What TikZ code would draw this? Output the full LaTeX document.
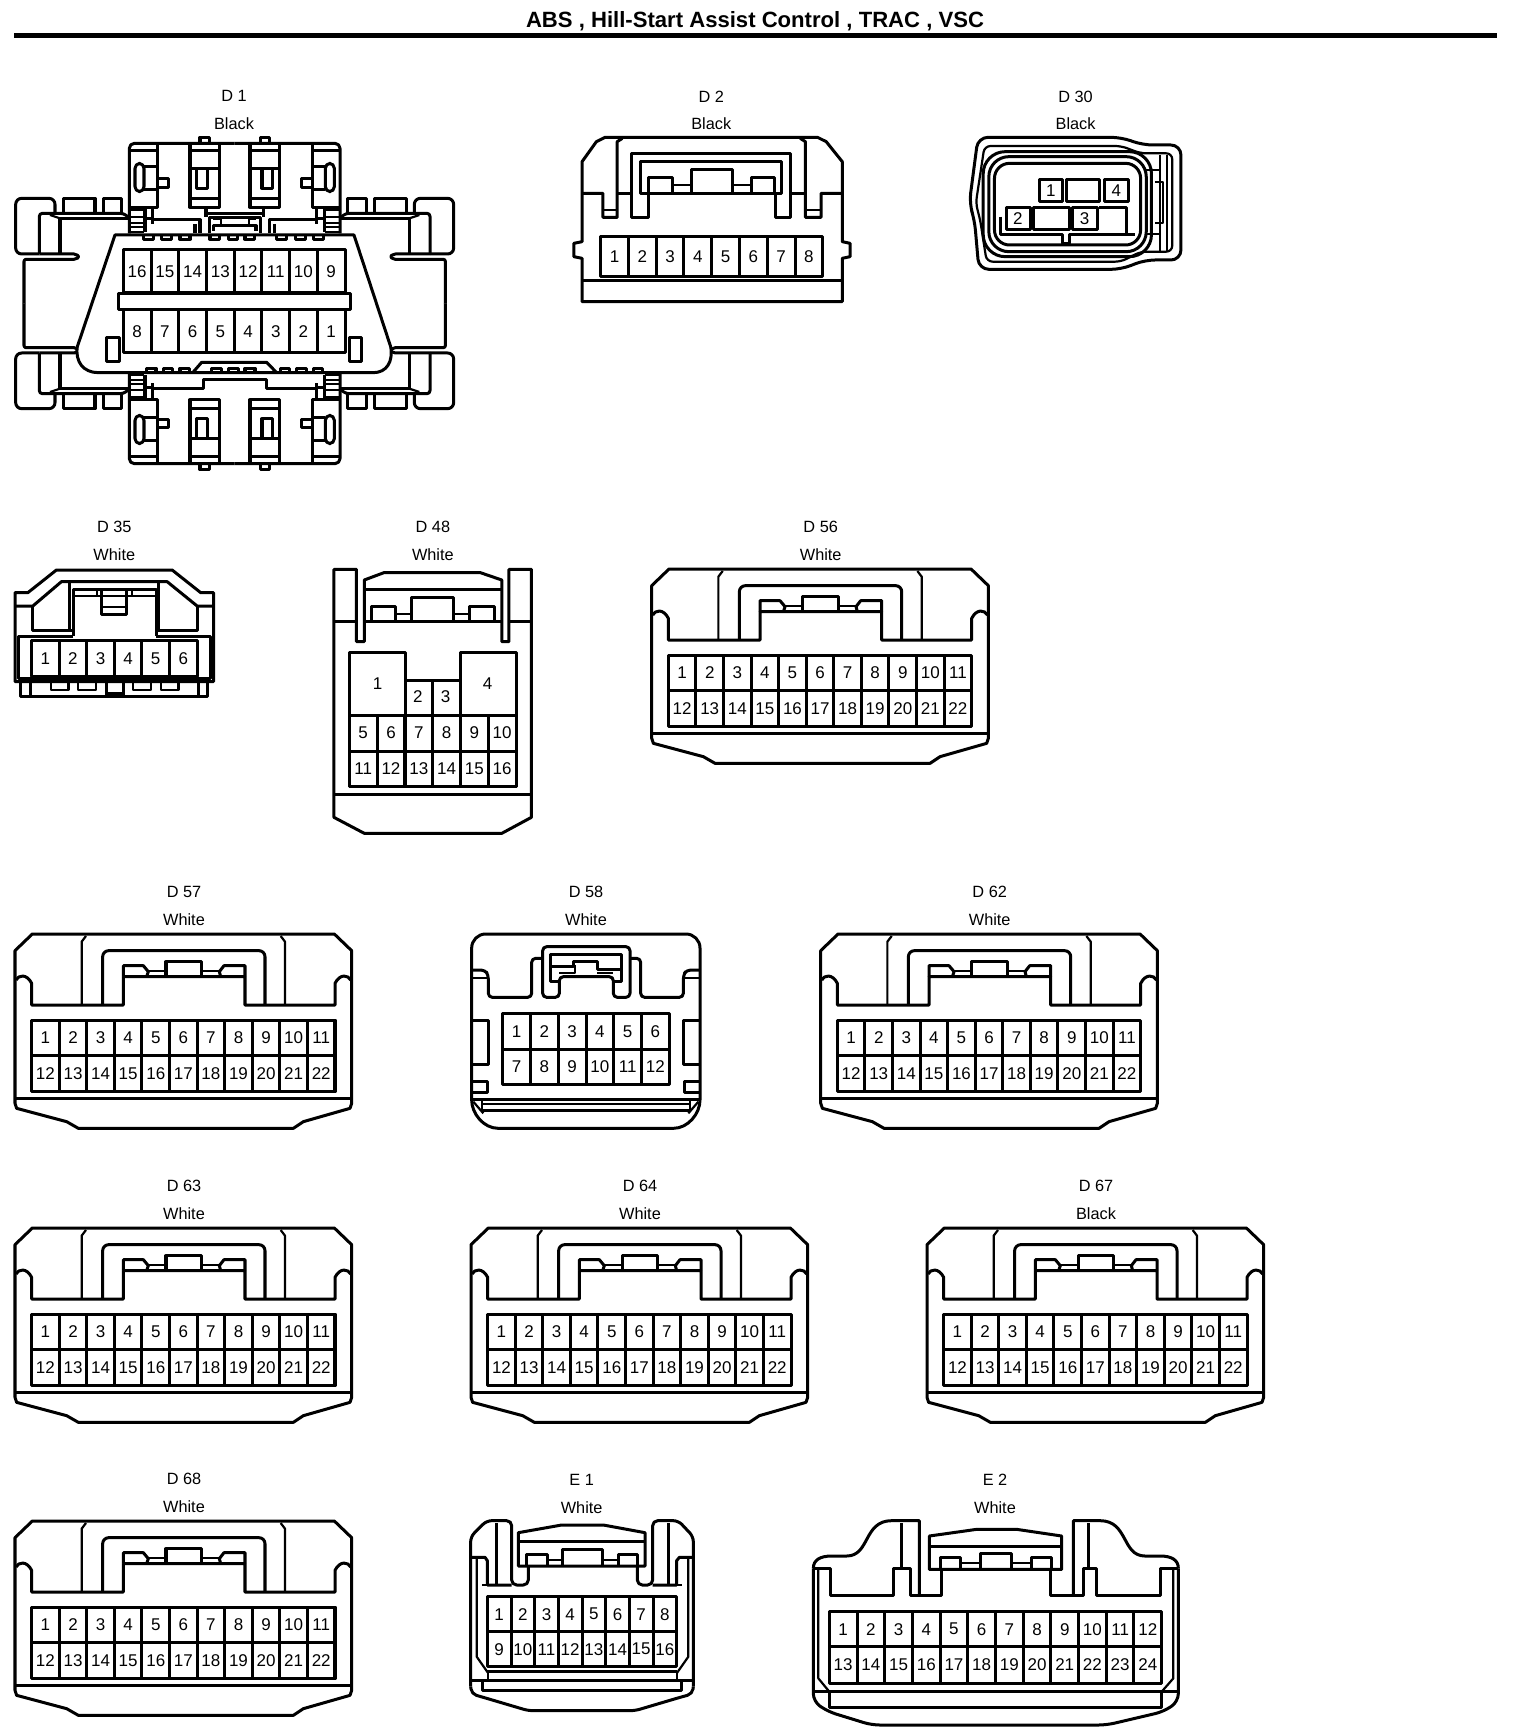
\documentclass[tikz,border=0pt]{standalone}
\usepackage{fontspec}
\setmainfont{Liberation Sans}
\newcommand\pinfont{\fontsize{17}{17}\selectfont}
\newcommand\capfont{\fontsize{16.3}{16.3}\selectfont}

\tikzset{
    conn/.style={line width=3pt, line join=round},
    thinconn/.style={line width=2.2pt, line join=round},
    pinlabel/.style={font=\pinfont, inner sep=0pt},
    caplabel/.style={font=\capfont, inner sep=0pt},
    zoomthree/.style={x=0.33333pt, y=-0.33333pt},
    zoomwide/.style={x=0.35714pt, y=-0.33333pt},
    zoomwider/.style={x=0.43365pt, y=-0.33333pt}
}

% one row of pin cells with their numbers
\newcommand\pinrow[7]{
    \pgfmathsetmacro\cellw{(#4-#2)/#6}
    \foreach \n [count=\i] in {#7} {
        \pgfmathsetmacro\xa{#2+(\i-1)*\cellw}
        \pgfmathsetmacro\xb{\xa+\cellw}
        \draw[conn] (\xa,#3) rectangle (\xb,#5);
        \node[pinlabel] (#1-\n) at ({(\xa+\xb)/2},{(#3+#5)/2}) {\n};
    }
}

\newcommand\connlabel[6]{
    \node[caplabel] (#1) at (#2,#3) {#5};
    \node[caplabel] (#1-colour) at (#2,#4) {#6};
}

% the 22 pin housing, drawn in the coordinates of its crop
\newcommand\wideconn[5]{
    \begin{scope}[shift={(#2,#3)}, zoomthree]
        \connlabel{#1}{552}{36}{118}{#4}{#5}
        \draw[conn] (97,162) -- (1003,162) -- (1055,212) -- (1055,670) -- (1050,685)
            -- (910,725) -- (880,745) -- (235,745) -- (200,725) -- (50,685) -- (45,670)
            -- (45,212) -- cycle;
        \draw[conn] (48,300) .. controls (55,285) and (80,280) .. (95,310) -- (95,375)
            -- (370,375) -- (370,290) -- (735,290) -- (735,375) -- (1005,375) -- (1005,310)
            .. controls (1020,280) and (1045,285) .. (1052,300);
        \draw[thinconn] (245,375) -- (245,185) -- (258,168);
        \draw[thinconn] (855,375) -- (855,185) -- (842,168);
        \draw[conn, rounded corners=6pt] (308,375) -- (308,212) -- (795,212) -- (795,375);
        \draw[conn] (370,290) -- (370,257) -- (430,257) -- (445,275) -- (440,290);
        \draw[conn] (735,290) -- (735,257) -- (672,257) -- (658,275) -- (662,290);
        \draw[thinconn] (445,274) -- (498,274);
        \draw[thinconn] (605,274) -- (660,274);
        \draw[conn] (498,290) -- (498,245) -- (605,245) -- (605,290);
        \draw[conn] (45,655) -- (1055,655);
        \pinrow{#1a}{95}{420}{1005}{525}{11}{1,...,11}
        \pinrow{#1b}{95}{525}{1005}{635}{11}{12,...,22}
    \end{scope}
}

% one quarter of the D 1 housing: wing, clip blocks and frame
\newcommand\doneside{
    \draw[conn] (365,640) -- (365,595) -- (310,595) -- (310,640);
    \draw[conn] (285,640) -- (285,595) -- (190,595) -- (190,640);
    \draw[conn, rounded corners=6pt] (165,640) -- (165,595) -- (47,595) -- (47,762) -- (118,762);
    \draw[conn, rounded corners=3pt] (118,762) -- (118,640) -- (370,640) -- (390,655);
    \draw[conn] (180,762) -- (180,655) -- (390,655);
    \draw[thinconn] (150,645) -- (180,655);
    \draw[conn, rounded corners=2pt] (118,762) -- (228,762) -- (238,770) -- (228,778) -- (72,778) -- (72,911);
    \draw[conn, rounded corners=5pt] (388,700) -- (388,430) -- (704,430);
    \draw[conn] (472,430) -- (472,622) -- (388,622);
    \draw[conn] (388,452) -- (472,452);
    \draw[conn, rounded corners=5pt] (405,490) rectangle (432,575);
    \draw[conn] (432,500) -- (472,500);
    \draw[conn] (432,568) -- (472,568);
    \draw[conn] (472,537) -- (505,537) -- (505,562) -- (472,562);
    \draw[conn] (570,430) -- (570,622) -- (658,622) -- (658,430);
    \draw[conn] (570,452) -- (658,452);
    \draw[conn] (570,505) -- (658,505);
    \draw[conn] (590,505) -- (590,565) -- (622,565) -- (622,505);
    \draw[conn] (570,595) -- (658,595);
    \draw[conn] (600,430) -- (600,412) -- (628,412) -- (628,430);
    \foreach \ly in {630,650,668,682,695} {
        \draw[thinconn] (392,\ly) -- (432,\ly);
    }
    \draw[conn] (435,622) -- (435,695);
    \draw[conn] (458,622) -- (458,672);
    \draw[conn] (438,657) -- (458,657);
}

\begin{document}
\begin{tikzpicture}[x=1pt, y=-1pt]
    \useasboundingbox[fill=white] (0,0) rectangle (1520,1736);

    \node[font=\bfseries\fontsize{22.1}{22.1}\selectfont, inner sep=0pt] (title) at (755,21)
        {ABS , Hill-Start Assist Control , TRAC , VSC};
    \coordinate (ruleL) at (14,35.5);
    \coordinate (ruleR) at (1497,35.5);
    \draw[line width=5pt] (ruleL) -- (ruleR);

    % D 1
    \begin{scope}[zoomthree]
        \connlabel{done}{702}{288}{370}{D 1}{Black}
        \doneside
        \begin{scope}[shift={(1408,0)}, xscale=-1]
            \doneside
        \end{scope}
        \begin{scope}[shift={(0,1821)}, yscale=-1]
            \doneside
        \end{scope}
        \begin{scope}[shift={(1408,1821)}, xscale=-1, yscale=-1]
            \doneside
        \end{scope}
        \draw[conn] (618,622) -- (618,650);
        \draw[conn] (790,622) -- (790,650);
        \draw[conn] (618,642) -- (790,642);
        \draw[conn] (458,660) -- (600,660) -- (600,700);
        \draw[conn] (950,660) -- (808,660) -- (808,700);
        \draw[conn] (585,672) -- (585,700);
        \draw[conn] (823,672) -- (823,700);
        \draw[conn] (628,700) -- (628,652) -- (780,652) -- (780,700);
        \draw[conn] (640,692) -- (640,678) -- (768,678) -- (768,692);
        \draw[thinconn] (640,658) -- (662,658) -- (662,678);
        \draw[thinconn] (768,658) -- (746,658) -- (746,678);
        % body
        \draw[conn, fill=white] (345,705) -- (1062,705) -- (1172,1040)
            .. controls (1180,1085) and (1160,1118) .. (1120,1118) -- (295,1118)
            .. controls (250,1118) and (225,1085) .. (232,1040) -- cycle;
        \foreach \s in {430,485,540,830,885,940} {
            \draw[conn] (\s,705) -- (\s,718) -- (\s+30,718) -- (\s+30,705);
        }
        \foreach \s in {640,695,745} {
            \draw[conn] (\s-10,705) -- (\s-10,718) -- (\s+18,718) -- (\s+18,705);
        }
        \foreach \s in {440,490,540,840,890,940} {
            \draw[conn] (\s,1118) -- (\s,1105) -- (\s+28,1105) -- (\s+28,1118);
        }
        \foreach \s in {635,685,735} {
            \draw[conn] (\s,1118) -- (\s,1105) -- (\s+30,1105) -- (\s+30,1118);
        }
        \draw[conn] (578,1118) -- (605,1087) -- (800,1087) -- (830,1118);
        % lower frame
        \draw[conn] (458,1165) -- (610,1165) -- (610,1140) -- (800,1140) -- (800,1165) -- (950,1165);
        \pinrow{donea}{370}{750}{1035}{878}{8}{16,15,14,13,12,11,10,9}
        \pinrow{doneb}{370}{930}{1035}{1058}{8}{8,7,6,5,4,3,2,1}
        \draw[conn, fill=white] (355,880) rectangle (1052,928);
        \draw[conn] (320,1012) rectangle (358,1085);
        \draw[conn] (1048,1012) rectangle (1085,1085);
    \end{scope}

    % D 2 and D 30
    \begin{scope}[shift={(540,60)}, zoomwider]
        \connlabel{dtwo}{395}{110}{190}{D 2}{Black}
        \draw[conn] (150,232) -- (640,232) -- (660,245) -- (697,305) -- (697,545) -- (715,550)
            -- (715,590) -- (697,595) -- (697,725) -- (97,725) -- (97,595) -- (78,590)
            -- (78,550) -- (97,545) -- (97,305) -- (130,245) -- cycle;
        \draw[conn] (97,400) -- (145,400) -- (145,472) -- (178,472) -- (178,245) -- (190,235);
        \draw[conn] (697,400) -- (648,400) -- (648,472) -- (612,472) -- (612,245) -- (600,235);
        \draw[thinconn] (145,450) -- (178,450);
        \draw[thinconn] (612,450) -- (648,450);
        \draw[conn] (178,400) -- (212,400);
        \draw[conn] (578,400) -- (612,400);
        \draw[conn] (250,400) -- (250,472) -- (212,472) -- (212,280) -- (578,280) -- (578,472)
            -- (542,472) -- (542,400);
        \draw[conn] (232,400) -- (232,305) -- (558,305) -- (558,400) -- cycle;
        \draw[conn] (250,400) -- (250,352) -- (305,352) -- (305,400);
        \draw[thinconn] (305,375) -- (350,375);
        \draw[conn] (350,400) -- (350,328) -- (443,328) -- (443,400);
        \draw[thinconn] (443,375) -- (487,375);
        \draw[conn] (487,400) -- (487,352) -- (540,352) -- (540,400);
        \draw[conn] (97,662) -- (697,662);
        \pinrow{dtwoa}{140}{530}{652}{650}{8}{1,...,8}

        \connlabel{dthirty}{1235}{110}{190}{D 30}{Black}
        \draw[conn, rounded corners=10pt] (1150,232) -- (1340,232) -- (1390,255) -- (1478,255)
            -- (1478,600) -- (1395,600) -- (1340,628) -- (1012,628) -- (1002,480) -- (990,430)
            -- (1010,232) -- cycle;
        \draw[thinconn, rounded corners=6pt] (1150,258) -- (1340,258) -- (1385,280) -- (1458,280)
            -- (1458,575) -- (1385,575) -- (1340,605) -- (1030,605) -- (1015,480) -- (1005,430)
            -- (1025,258) -- cycle;
        \draw[conn, rounded corners=22pt] (1022,275) rectangle (1410,590);
        \draw[conn, rounded corners=20pt] (1035,290) rectangle (1398,575);
        \draw[conn, rounded corners=15pt] (1200,310) -- (1385,310) -- (1385,555) -- (1048,555) -- (1048,310) -- cycle;
        \draw[thinconn] (1430,285) -- (1430,572);
        \draw[thinconn] (1445,285) -- (1445,572);
        \draw[thinconn] (1398,330) -- (1430,330);
        \draw[thinconn] (1398,522) -- (1430,522);
        \draw[thinconn] (1418,365) -- (1437,365) -- (1437,490) -- (1418,490);
        \draw[conn] (1062,470) -- (1062,525) -- (1205,525) -- (1205,550) -- (1222,550) -- (1222,525)
            -- (1352,525) -- (1352,442) -- (1290,442);
        \draw[conn] (1352,525) -- (1372,525);
        \draw[conn] (1152,358) rectangle (1205,425);
        \draw[conn] (1215,358) rectangle (1290,425);
        \draw[conn] (1302,358) rectangle (1357,425);
        \draw[conn, fill=white] (1075,442) rectangle (1130,510);
        \draw[conn, fill=white] (1138,442) rectangle (1222,510);
        \draw[conn, fill=white] (1228,442) rectangle (1285,510);
        \node[pinlabel] (dthirty-1) at (1178,392) {1};
        \node[pinlabel] (dthirty-4) at (1329,392) {4};
        \node[pinlabel] (dthirty-2) at (1102,476) {2};
        \node[pinlabel] (dthirty-3) at (1256,476) {3};
    \end{scope}

    % D 35 and D 48
    \begin{scope}[shift={(0,510)}, zoomwide]
        \connlabel{dthirtyfive}{320}{52}{135}{D 35}{White}
        \draw[conn] (42,248) -- (78,248) -- (158,180) -- (482,180) -- (562,248) -- (598,248)
            -- (598,515) -- (42,515) -- cycle;
        \draw[conn] (42,288) -- (92,288) -- (172,215) -- (468,215) -- (552,288) -- (598,288);
        \draw[conn] (92,288) -- (92,362) -- (205,362);
        \draw[conn] (552,288) -- (552,362) -- (437,362);
        \draw[conn] (195,215) -- (195,362);
        \draw[conn] (445,215) -- (445,362);
        \draw[conn] (205,378) -- (205,238) -- (437,238) -- (437,378);
        \draw[thinconn] (205,258) -- (437,258);
        \draw[conn] (285,238) -- (285,312) -- (355,312) -- (355,238);
        \draw[thinconn] (285,290) -- (355,290);
        \draw[thinconn] (272,238) -- (272,258);
        \draw[thinconn] (370,238) -- (370,258);
        \draw[conn] (205,378) -- (52,378) -- (52,505) -- (590,505) -- (590,378) -- (437,378);
        \draw[conn] (58,518) -- (58,560) -- (582,560) -- (582,518);
        \draw[conn] (85,518) -- (85,558);
        \draw[conn] (555,518) -- (555,558);
        \foreach \s in {142,218,372,450} {
            \draw[thinconn] (\s,518) -- (\s,540) -- (\s+50,540) -- (\s+50,518);
        }
        \draw[conn] (298,518) -- (298,560);
        \draw[conn] (345,518) -- (345,560);
        \fill (298,545) rectangle (345,560);
        \pinrow{dthirtyfivea}{88}{392}{552}{498}{6}{1,...,6}

        \connlabel{dfortyeight}{1212}{52}{135}{D 48}{White}
        \draw[conn] (935,178) -- (998,178) -- (998,395) -- (1020,395) -- (1020,210) -- (1075,188)
            -- (1345,188) -- (1405,210) -- (1405,395) -- (1425,395) -- (1425,178) -- (1488,178)
            -- (1488,922) -- (1405,970) -- (1020,970) -- (935,922) -- cycle;
        \draw[conn] (935,335) -- (998,335);
        \draw[conn] (1020,335) -- (1405,335);
        \draw[conn] (1425,335) -- (1488,335);
        \draw[conn] (1020,238) -- (1405,238);
        \draw[conn] (1040,335) -- (1040,288) -- (1108,288) -- (1108,335);
        \draw[thinconn] (1108,312) -- (1152,312);
        \draw[conn] (1152,335) -- (1152,262) -- (1270,262) -- (1270,335);
        \draw[thinconn] (1270,312) -- (1315,312);
        \draw[conn] (1315,335) -- (1315,288) -- (1385,288) -- (1385,335);
        \draw[conn] (935,852) -- (1488,852);
        \draw[conn] (978,428) -- (1135,428) -- (1135,510) -- (1290,510) -- (1290,428) -- (1445,428)
            -- (1445,828) -- (978,828) -- cycle;
        \draw[conn] (978,615) -- (1445,615);
        \draw[conn] (1135,615) -- (1135,828);
        \draw[conn] (1290,615) -- (1290,828);
        \draw[conn] (1135,510) -- (1135,615);
        \draw[conn] (1290,510) -- (1290,615);
        \draw[conn] (1212,510) -- (1212,615);
        \node[pinlabel] (dfortyeight-1) at (1057,520) {1};
        \node[pinlabel] (dfortyeight-2) at (1170,560) {2};
        \node[pinlabel] (dfortyeight-3) at (1248,560) {3};
        \node[pinlabel] (dfortyeight-4) at (1365,520) {4};
        \pinrow{dfortyeighta}{978}{615}{1445}{723}{6}{5,...,10}
        \pinrow{dfortyeightb}{978}{723}{1445}{828}{6}{11,...,16}
    \end{scope}

    \wideconn{dfiftysix}{636.7}{515}{D 56}{White}
    \wideconn{dfiftyseven}{0}{880}{D 57}{White}
    \wideconn{dsixtytwo}{805.7}{880}{D 62}{White}
    \wideconn{dsixtythree}{0}{1174}{D 63}{White}
    \wideconn{dsixtyfour}{456}{1174}{D 64}{White}
    \wideconn{dsixtyseven}{912}{1174}{D 67}{Black}
    \wideconn{dsixtyeight}{0}{1467}{D 68}{White}

    % D 58
    \begin{scope}[shift={(450,880)}, zoomthree]
        \connlabel{dfiftyeight}{408}{36}{118}{D 58}{White}
        \draw[conn, rounded corners=14pt] (65,660) -- (65,162) -- (750,162) -- (750,660);
        \draw[conn] (65,658) -- (750,658);
        \draw[conn] (65,660) .. controls (65,700) and (100,745) .. (145,745) -- (670,745)
            .. controls (715,745) and (750,700) .. (750,660);
        \draw[thinconn] (95,672) -- (720,672);
        \draw[conn] (95,690) -- (720,690);
        \draw[thinconn] (95,660) -- (95,690);
        \draw[thinconn] (720,660) -- (720,690);
        \draw[thinconn] (70,665) -- (100,700);
        \draw[thinconn] (745,665) -- (715,700);
        \draw[conn, rounded corners=4pt] (65,270) -- (105,270) -- (115,285) -- (115,352) -- (245,352)
            -- (245,235) -- (275,235);
        \draw[conn, rounded corners=4pt] (750,270) -- (710,270) -- (700,285) -- (700,352) -- (572,352)
            -- (572,235) -- (540,235);
        \draw[thinconn] (65,293) -- (112,293);
        \draw[thinconn] (703,293) -- (750,293);
        \draw[conn, rounded corners=4pt] (278,352) -- (278,200) -- (540,200) -- (540,352) -- (490,352)
            -- (490,290) -- (328,290) -- (328,352) -- cycle;
        \draw[conn] (325,305) -- (302,305) -- (302,222) -- (515,222) -- (515,305) -- (492,305);
        \draw[conn] (302,258) -- (370,258) -- (370,245) -- (442,245) -- (442,268) -- (515,268);
        \draw[thinconn] (328,280) -- (375,280) -- (375,255);
        \draw[thinconn] (442,280) -- (490,280);
        \draw[conn] (65,422) -- (115,422) -- (115,552) -- (65,552);
        \draw[conn] (750,422) -- (700,422) -- (700,552) -- (750,552);
        \draw[conn] (65,605) -- (112,605) -- (112,638) -- (65,638);
        \draw[conn] (750,605) -- (702,605) -- (702,638) -- (750,638);
        \pinrow{dfiftyeighta}{158}{400}{658}{508}{6}{1,...,6}
        \pinrow{dfiftyeightb}{158}{508}{658}{612}{6}{7,...,12}
    \end{scope}

    % E 1
    \begin{scope}[shift={(450,1470)}, zoomthree]
        \connlabel{eone}{395}{30}{112}{E 1}{White}
        \draw[conn, rounded corners=5pt] (62,650) -- (62,200) -- (110,152) -- (185,152) -- (185,345)
            -- (235,345) -- (235,288);
        \draw[conn, rounded corners=5pt] (730,650) -- (730,200) -- (685,152) -- (608,152) -- (608,345)
            -- (562,345) -- (562,288);
        \draw[conn, rounded corners=5pt] (62,650) -- (65,672) -- (100,682) -- (235,722) -- (555,722)
            -- (690,682) -- (727,672) -- (730,650);
        \draw[conn] (205,288) -- (205,188) -- (335,165) -- (460,165) -- (585,188) -- (585,288) -- cycle;
        \draw[conn] (205,215) -- (585,215);
        \draw[conn] (230,288) -- (230,252) -- (292,252) -- (292,288);
        \draw[thinconn] (292,270) -- (338,270);
        \draw[conn] (338,288) -- (338,238) -- (458,238) -- (458,288);
        \draw[thinconn] (458,270) -- (505,270);
        \draw[conn] (505,288) -- (505,252) -- (562,252) -- (562,288);
        \draw[conn] (140,160) -- (140,345);
        \draw[conn] (655,160) -- (655,345);
        \draw[conn] (62,262) -- (105,262) -- (112,272) -- (112,345) -- (185,345);
        \draw[conn] (730,262) -- (688,262) -- (680,272) -- (680,345) -- (608,345);
        \draw[thinconn] (80,265) -- (80,560) -- (115,610);
        \draw[thinconn] (715,265) -- (715,560) -- (680,610);
        \draw[thinconn] (97,345) -- (112,345);
        \draw[thinconn] (680,345) -- (695,345);
        \draw[conn] (112,605) -- (680,605);
        \draw[conn] (62,630) -- (730,630);
        \draw[conn] (98,630) -- (98,662) -- (695,662) -- (695,630);
        \draw[thinconn] (115,605) -- (115,630);
        \draw[thinconn] (680,605) -- (680,630);
        \pinrow{eonea}{112}{380}{680}{485}{8}{1,...,8}
        \pinrow{eoneb}{112}{485}{680}{590}{8}{9,...,16}
    \end{scope}

    % E 2
    \begin{scope}[shift={(790,1470)}, zoomthree]
        \connlabel{etwo}{615}{30}{112}{E 2}{White}
        \draw[conn] (70,295) .. controls (70,270) and (90,258) .. (125,258) -- (170,258)
            .. controls (240,258) and (220,152) .. (305,152) -- (388,152) -- (388,375);
        \draw[conn] (1165,295) .. controls (1165,270) and (1145,258) .. (1110,258) -- (1065,258)
            .. controls (995,258) and (1015,152) .. (930,152) -- (850,152) -- (850,375);
        \draw[conn, rounded corners=8pt] (70,295) -- (70,695) -- (115,725) -- (245,765) -- (950,765)
            -- (1120,725) -- (1165,695) -- (1165,295);
        \draw[conn] (335,160) -- (335,295);
        \draw[conn] (895,160) -- (895,295);
        \draw[conn] (70,295) -- (120,295) -- (120,375) -- (310,375) -- (310,295) -- (360,295) -- (360,375)
            -- (455,375) -- (455,298);
        \draw[conn] (1165,295) -- (1110,295) -- (1110,375) -- (920,375) -- (920,295) -- (880,295) -- (880,375)
            -- (782,375) -- (782,298);
        \draw[conn] (418,298) -- (418,198) -- (560,178) -- (680,178) -- (815,198) -- (815,298) -- cycle;
        \draw[conn] (418,228) -- (815,228);
        \draw[conn] (450,298) -- (450,262) -- (510,262) -- (510,298);
        \draw[thinconn] (510,280) -- (570,280);
        \draw[conn] (570,298) -- (570,250) -- (665,250) -- (665,298);
        \draw[thinconn] (665,280) -- (725,280);
        \draw[conn] (725,298) -- (725,262) -- (785,262) -- (785,298);
        \draw[thinconn] (85,298) -- (85,625) -- (118,665);
        \draw[thinconn] (1150,298) -- (1150,625) -- (1115,665);
        \draw[conn] (72,665) -- (1162,665);
        \draw[conn] (118,665) -- (118,712) -- (1115,712) -- (1115,665);
        \pinrow{etwoa}{118}{425}{1115}{530}{12}{1,...,12}
        \pinrow{etwob}{118}{530}{1115}{640}{12}{13,...,24}
    \end{scope}
\end{tikzpicture}
\end{document}
